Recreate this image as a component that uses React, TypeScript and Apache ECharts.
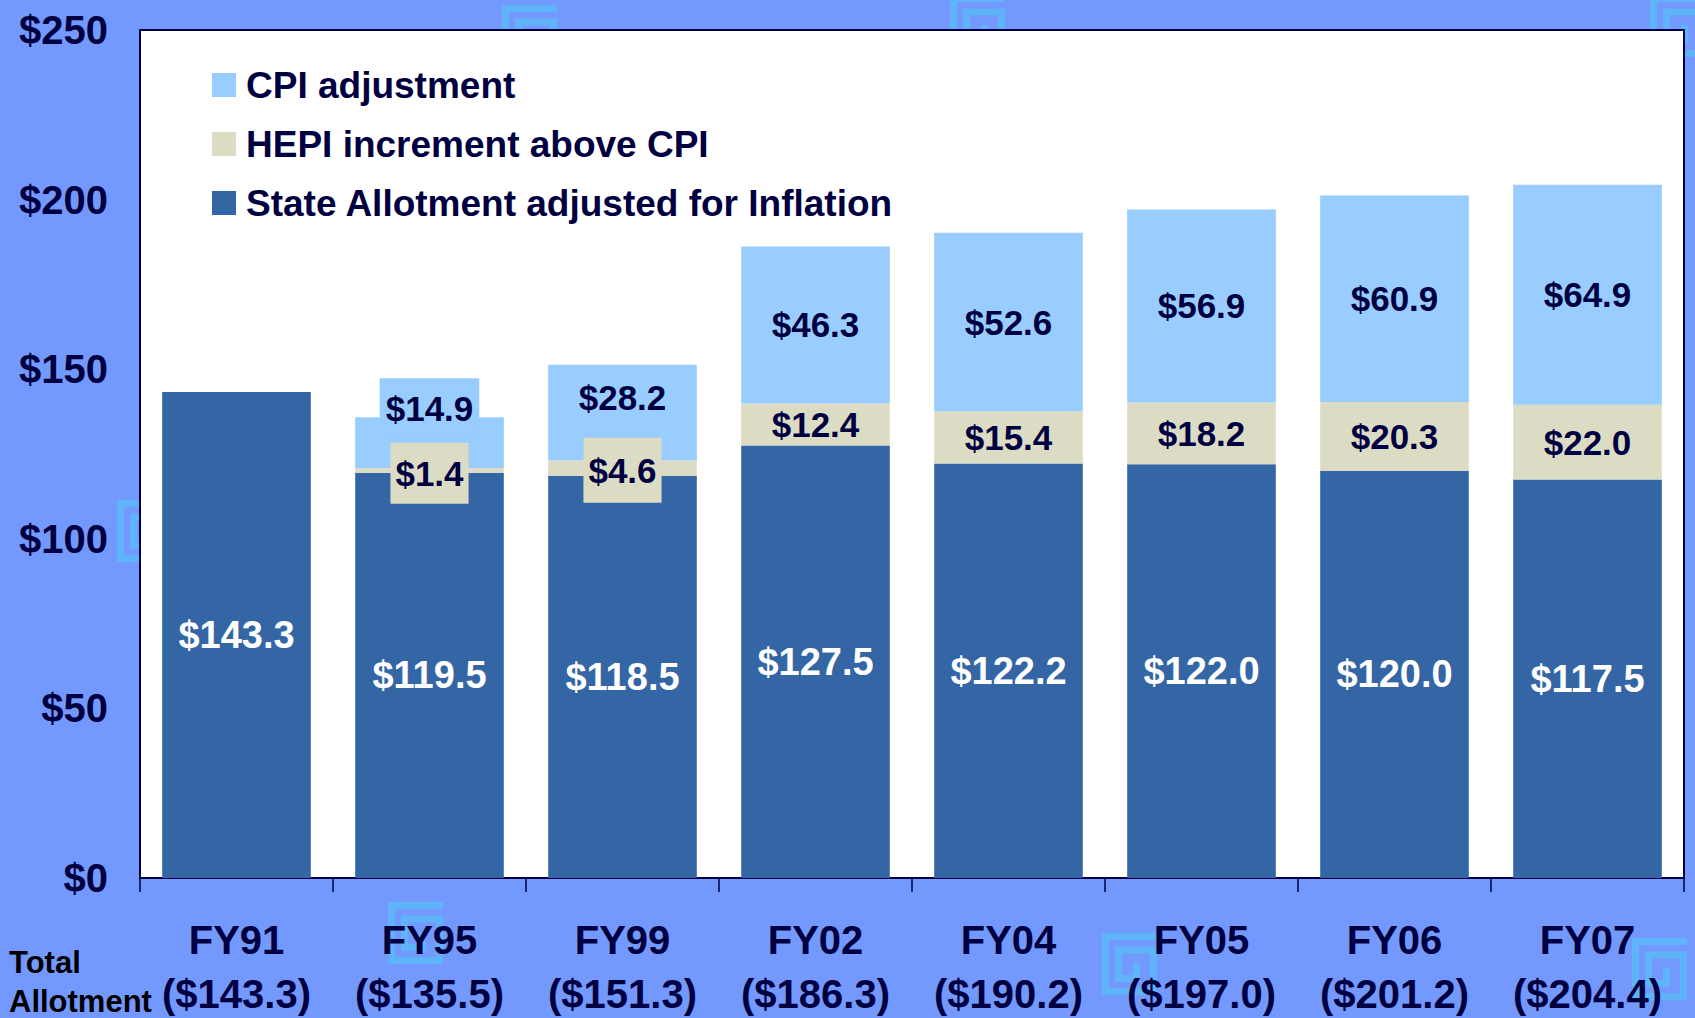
import React, { useEffect, useRef } from 'react';
import * as echarts from 'echarts';

const categories = ['FY91', 'FY95', 'FY99', 'FY02', 'FY04', 'FY05', 'FY06', 'FY07'];
const totalAllotment = ['$143.3', '$135.5', '$151.3', '$186.3', '$190.2', '$197.0', '$201.2', '$204.4'];
const stateAllotment = [143.3, 119.5, 118.5, 127.5, 122.2, 122.0, 120.0, 117.5];
const hepiIncrement = [null, 1.4, 4.6, 12.4, 15.4, 18.2, 20.3, 22.0];
const cpiAdjustment = [null, 14.9, 28.2, 46.3, 52.6, 56.9, 60.9, 64.9];
const seriesNames = ['CPI adjustment', 'HEPI increment above CPI', 'State Allotment adjusted for Inflation'];
const yMin = 0;
const yMax = 250;
const yStep = 50;

const W = 1695;
const H = 1018;
const BG = '#7399FF';
const NAVY = '#000040';
const C_STATE = '#3465A4';
const C_HEPI = '#DCDCC5';
const C_CPI = '#99CCFF';
const DECO = '#5FB3F8';

function hasFont(name: string): boolean {
  try {
    const ctx = document.createElement('canvas').getContext('2d');
    if (!ctx) return false;
    const t = '$143.3 FY91 Allotment';
    ctx.font = 'bold 40px monospace';
    const a = ctx.measureText(t).width;
    ctx.font = `bold 40px '${name}', monospace`;
    const b = ctx.measureText(t).width;
    return Math.abs(a - b) > 0.5;
  } catch (e) {
    return false;
  }
}

// spiral decoration (relative centerline points)
const spiralPts = [
  [55, 3.5], [3.5, 3.5], [3.5, 58.5], [51.5, 58.5], [51.5, 17],
  [16.5, 17], [16.5, 45.5], [34.5, 45.5], [34.5, 30],
];
const decoSpots = [
  [502, 5], [950, -5], [1650, -5], [117, 500], [388, 902], [1102, 933], [1632, 938],
];

export default function App() {
  const ref = useRef<HTMLDivElement>(null);
  useEffect(() => {
    document.body.style.margin = '0';
    document.body.style.background = BG;
    const narrow = hasFont('Liberation Sans Narrow')
      ? "'Liberation Sans Narrow'"
      : hasFont('Arial Narrow')
      ? "'Arial Narrow'"
      : null;
    const axisFont = narrow ? narrow + ", 'Liberation Sans', Arial, sans-serif" : "'Liberation Sans', Arial, sans-serif";
    const k = narrow ? 1 : 0.86;
    const regFont = "'Liberation Sans', Arial, sans-serif";

    const chart = echarts.init(ref.current!, null, { renderer: 'svg' });

    const fmt = (p: any) => (p.value == null ? '' : '$' + Number(p.value).toFixed(1));

    const stateData = stateAllotment.map((v) => ({ value: v }));
    const hepiData = hepiIncrement.map((v, i) => {
      const item: any = { value: v };
      if (i === 1) item.label = { backgroundColor: C_HEPI, padding: [13, 5], offset: [0, 3] };
      if (i === 2) item.label = { backgroundColor: C_HEPI, padding: [15, 5], offset: [0, 2] };
      return item;
    });
    const cpiData = cpiAdjustment.map((v, i) => {
      const item: any = { value: v };
      if (i === 1) item.label = { offset: [0, -34], backgroundColor: C_CPI, padding: [13, 6] };
      if (i === 2) item.label = { offset: [0, -15] };
      return item;
    });

    const navyLabel = {
      show: true,
      position: 'inside',
      formatter: fmt,
      color: NAVY,
      fontFamily: axisFont,
      fontWeight: 'bold',
      fontSize: Math.round(41 * k),
      lineHeight: Math.round(41 * k),
      textBorderWidth: 0,
    };

    const graphics: any[] = decoSpots.map(([x, y]) => ({
      type: 'polyline',
      x,
      y,
      z: -10,
      silent: true,
      shape: { points: spiralPts },
      style: { stroke: DECO, lineWidth: 7, fill: null, lineJoin: 'miter', lineCap: 'butt' },
    }));
    graphics.push(
      {
        type: 'text',
        left: 9,
        top: 947,
        style: {
          text: 'Total',
          fill: '#000000',
          font: `bold ${Math.round(36 * k)}px ${axisFont}`,
        },
      },
      {
        type: 'text',
        left: 9,
        top: 986,
        style: {
          text: 'Allotment',
          fill: '#000000',
          font: `bold ${Math.round(36 * k)}px ${axisFont}`,
        },
      }
    );

    chart.setOption({
      animation: false,
      backgroundColor: BG,
      graphic: { elements: graphics },
      grid: {
        left: 140,
        right: 11,
        top: 30,
        bottom: 140,
        outerBoundsMode: 'none',
        containLabel: false,
        show: true,
        backgroundColor: '#FFFFFF',
        borderColor: NAVY,
        borderWidth: 2,
        z: 0,
      },
      legend: {
        orient: 'vertical',
        left: 207,
        top: 61,
        itemWidth: 24,
        itemHeight: 24,
        itemGap: 21,
        icon: 'rect',
        data: seriesNames,
        textStyle: {
          fontFamily: regFont,
          fontWeight: 'bold',
          fontSize: 37,
          lineHeight: 38,
          color: NAVY,
          padding: [0, 0, 0, 5],
        },
      },
      xAxis: {
        type: 'category',
        data: categories,
        axisLine: { show: true, lineStyle: { color: NAVY, width: 2 } },
        axisTick: { show: true, length: 14, lineStyle: { color: NAVY, width: 1.5 } },
        axisLabel: {
          interval: 0,
          margin: 35,
          formatter: (v: string, i: number) => `${v}\n(${totalAllotment[i]})`,
          color: NAVY,
          fontFamily: axisFont,
          fontWeight: 'bold',
          fontSize: Math.round(46 * k),
          lineHeight: 54,
        },
      },
      yAxis: {
        type: 'value',
        min: yMin,
        max: yMax,
        interval: yStep,
        splitLine: { show: false },
        axisTick: { show: false },
        axisLine: { show: true, lineStyle: { color: NAVY, width: 2 } },
        axisLabel: {
          margin: 32,
          formatter: (v: number) => '$' + v,
          color: NAVY,
          fontFamily: axisFont,
          fontWeight: 'bold',
          fontSize: Math.round(46 * k),
        },
      },
      series: [
        {
          name: seriesNames[2],
          type: 'bar',
          stack: 'total',
          barCategoryGap: '23%',
          itemStyle: { color: C_STATE },
          data: stateData,
          label: {
            show: true,
            position: 'inside',
            formatter: fmt,
            color: '#FFFFFF',
            fontFamily: axisFont,
            fontWeight: 'bold',
            fontSize: Math.round(44 * k),
            textBorderWidth: 0,
          },
        },
        {
          name: seriesNames[1],
          type: 'bar',
          stack: 'total',
          itemStyle: { color: C_HEPI },
          data: hepiData,
          label: navyLabel,
        },
        {
          name: seriesNames[0],
          type: 'bar',
          stack: 'total',
          itemStyle: { color: C_CPI },
          data: cpiData,
          label: navyLabel,
        },
      ],
    });
    return () => chart.dispose();
  }, []);
  return <div ref={ref} style={{ width: W, height: H, background: BG }} />;
}
